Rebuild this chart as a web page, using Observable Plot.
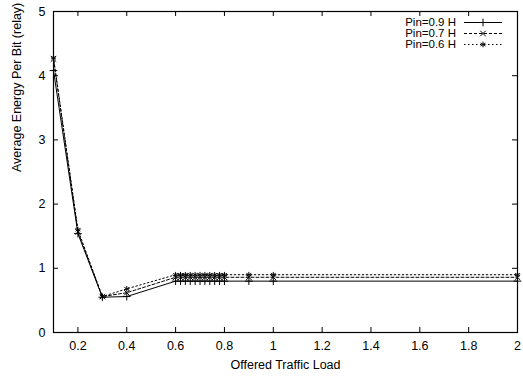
<!DOCTYPE html>
<html>
<head>
<meta charset="utf-8">
<script src="https://cdn.jsdelivr.net/npm/d3@7"></script>
<script src="https://cdn.jsdelivr.net/npm/@observablehq/plot@0.6"></script>
<style>
  html, body { margin: 0; padding: 0; background: #fff; }
  #chart { position: relative; width: 523px; height: 376px; font-family: "Liberation Sans", Arial, sans-serif; }
  #legend { position: absolute; top: 17px; left: 372px; font-size: 11.5px; line-height: 11px; color: #000; }
  #legend .row { display: flex; align-items: center; height: 11px; }
  #legend .lab { display: inline-block; height: 11px; overflow: visible; width: 84px; text-align: right; padding-right: 8px; white-space: nowrap; }
</style>
</head>
<body>
<div id="chart"><div id="legend"></div></div>
<script>
// Offered traffic load values (x) shared by all series
const load = [0.1, 0.2, 0.3, 0.4, 0.6, 0.62, 0.64, 0.66, 0.68, 0.7, 0.72, 0.74, 0.76, 0.78, 0.8, 0.9, 1, 2];

// Average energy per bit at the relay, one array per input power
const pin09 = [4.08, 1.54, 0.55, 0.56, 0.80, 0.80, 0.80, 0.80, 0.80, 0.80, 0.80, 0.80, 0.80, 0.80, 0.80, 0.80, 0.80, 0.80];
const pin07 = [4.26, 1.57, 0.56, 0.62, 0.86, 0.86, 0.86, 0.86, 0.86, 0.86, 0.86, 0.86, 0.86, 0.86, 0.86, 0.86, 0.86, 0.86];
const pin06 = [4.28, 1.60, 0.56, 0.68, 0.90, 0.90, 0.90, 0.90, 0.90, 0.90, 0.90, 0.90, 0.90, 0.90, 0.90, 0.90, 0.90, 0.90];

const seriesNames = ["Pin=0.9 H", "Pin=0.7 H", "Pin=0.6 H"];
const seriesValues = [pin09, pin07, pin06];
const seriesDash = [null, "3,2", "1.5,2.5"];
const seriesSymbol = ["plus", "times", "asterisk"];

const xTicks = [0.2, 0.4, 0.6, 0.8, 1, 1.2, 1.4, 1.6, 1.8, 2];
const yTicks = [0, 1, 2, 3, 4, 5];
const xTitle = "Offered Traffic Load";
const yTitle = "Average Energy Per Bit (relay)";

const width = 523, height = 376;
const margin = {top: 11, right: 6, bottom: 44, left: 53};
const innerW = width - margin.left - margin.right;
const innerH = height - margin.top - margin.bottom;
const tickLen = 5;
const symR = 2.6;

const rows = seriesNames.map((name, i) =>
  load.map((x, j) => ({series: name, x, y: seriesValues[i][j]}))
);

const marks = [];
rows.forEach((data, i) => {
  marks.push(Plot.line(data, {x: "x", y: "y", stroke: "black", strokeWidth: 1, strokeDasharray: seriesDash[i]}));
  marks.push(Plot.dot(data, {x: "x", y: "y", symbol: () => seriesSymbol[i], stroke: "black", fill: "none", r: symR, strokeWidth: 1}));
});

const chart = Plot.plot({
  width, height,
  marginTop: margin.top, marginRight: margin.right, marginBottom: margin.bottom, marginLeft: margin.left,
  style: {fontFamily: "Liberation Sans, Arial, sans-serif", fontSize: "12.5px", color: "black", background: "white"},
  x: {domain: [0.1, 2]},
  y: {domain: [0, 5]},
  symbol: {type: "identity"},
  marks: [
    // inward ticks on all four sides
    Plot.tickX(xTicks, {x: d => d, insetTop: innerH - tickLen, stroke: "black"}),
    Plot.tickX(xTicks, {x: d => d, insetBottom: innerH - tickLen, stroke: "black"}),
    Plot.tickY(yTicks, {y: d => d, insetRight: innerW - tickLen, stroke: "black"}),
    Plot.tickY(yTicks, {y: d => d, insetLeft: innerW - tickLen, stroke: "black"}),
    Plot.axisX({ticks: xTicks, tickSize: 0, tickPadding: 9, tickFormat: d => String(d), label: null}),
    Plot.axisY({ticks: yTicks, tickSize: 0, tickPadding: 8, tickFormat: d => String(d), label: null}),
    // axis titles
    Plot.text([xTitle], {text: d => d, frameAnchor: "bottom", dy: 36, fill: "black"}),
    Plot.text([yTitle], {text: d => d, frameAnchor: "left", rotate: -90, dx: -37, fill: "black"}),
    ...marks,
    Plot.frame({stroke: "black", strokeWidth: 1.2})
  ]
});
document.getElementById("chart").prepend(chart);

// key in the upper right corner
const legend = d3.select("#legend");
const symTypes = {plus: d3.symbolPlus, times: d3.symbolTimes, asterisk: d3.symbolAsterisk};
seriesNames.forEach((name, i) => {
  const row = legend.append("div").attr("class", "row");
  row.append("span").attr("class", "lab").text(name);
  const svg = row.append("svg").attr("width", 40).attr("height", 11);
  svg.append("line").attr("x1", 0).attr("x2", 38).attr("y1", 5.5).attr("y2", 5.5)
    .attr("stroke", "black").attr("stroke-dasharray", seriesDash[i]);
  const sym = d3.symbol(symTypes[seriesSymbol[i]], Math.PI * symR * symR);
  svg.append("path").attr("d", sym()).attr("transform", "translate(19,5.5)")
    .attr("fill", "none").attr("stroke", "black");
});
</script>
</body>
</html>
